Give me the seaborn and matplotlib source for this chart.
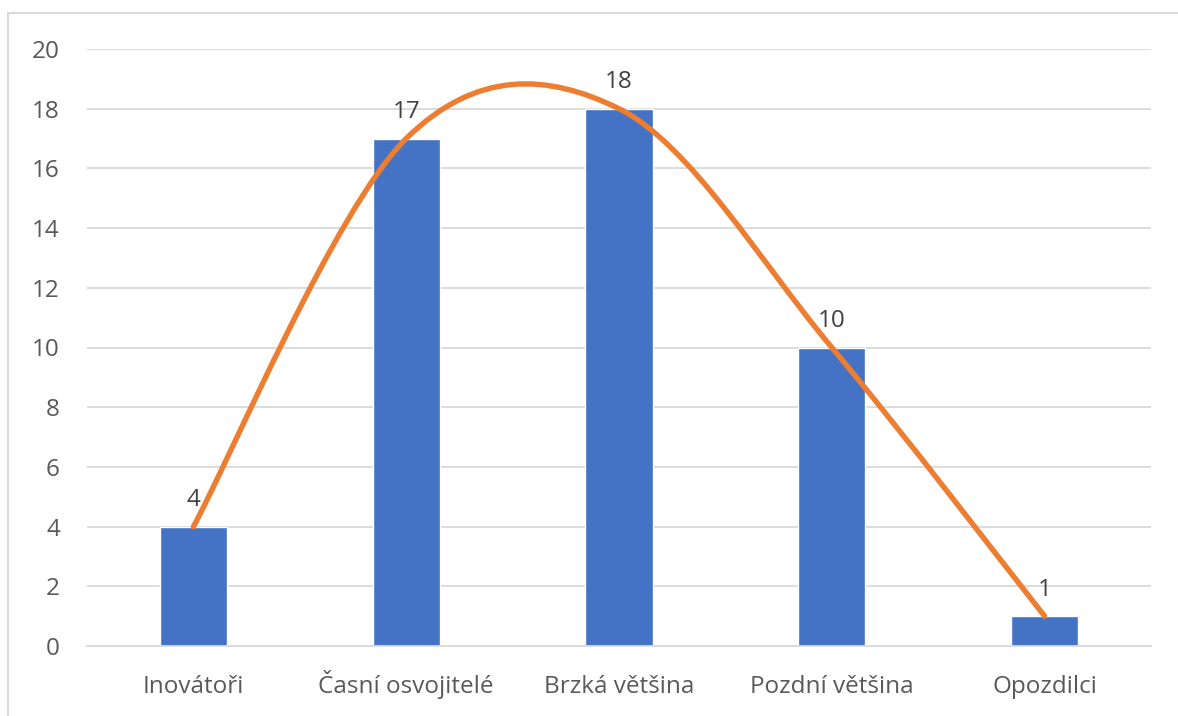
import matplotlib
matplotlib.use("Agg")
import matplotlib.pyplot as plt
from matplotlib.path import Path
from matplotlib.patches import PathPatch, Rectangle
import seaborn as sns
import pandas as pd

categories = ["Inovátoři", "Časní osvojitelé", "Brzká většina", "Pozdní většina", "Opozdilci"]
counts = [4, 17, 18, 10, 1]
y_ticks = [0, 2, 4, 6, 8, 10, 12, 14, 16, 18, 20]

sns.set_theme(style="white")
plt.rcParams["font.family"] = ["Open Sans", "DejaVu Sans"]

df = pd.DataFrame({"kategorie": categories, "pocet": counts})

fig = plt.figure(figsize=(11.78, 7.16), dpi=100)
ax = fig.add_axes([87 / 1178, 1 - 646 / 716, (1151 - 87) / 1178, (646 - 49) / 716])

sns.barplot(data=df, x="kategorie", y="pocet", color="#4472C4", width=0.315,
            saturation=1, ax=ax, zorder=2)

# smoothed line through the bar tops (cubic Bezier, Catmull-Rom style tangents)
xs = list(range(len(counts)))
pts = list(zip(xs, counts))
verts = [pts[0]]
codes = [Path.MOVETO]
for i in range(len(pts) - 1):
    p0 = pts[i - 1] if i > 0 else pts[i]
    p1 = pts[i]
    p2 = pts[i + 1]
    p3 = pts[i + 2] if i + 2 < len(pts) else pts[i + 1]
    c1 = (p1[0] + (p2[0] - p0[0]) / 6, p1[1] + (p2[1] - p0[1]) / 6)
    c2 = (p2[0] - (p3[0] - p1[0]) / 6, p2[1] - (p3[1] - p1[1]) / 6)
    verts += [c1, c2, p2]
    codes += [Path.CURVE4] * 3
ax.add_patch(PathPatch(Path(verts, codes), facecolor="none", edgecolor="#ED7D31",
                       lw=3.9, capstyle="round", joinstyle="round", zorder=4))

for x, v in zip(xs, counts):
    ax.annotate(str(v), (x, v), xytext=(0, 10.5), textcoords="offset points",
                ha="center", va="bottom", fontsize=17.5, color="#404040", zorder=5)

ax.set_ylim(0, 20)
ax.set_xlim(-0.5, len(categories) - 0.5)
ax.set_yticks(y_ticks)
ax.yaxis.grid(True, color="#D9D9D9", lw=1.3, zorder=0)
ax.set_axisbelow(True)
for s in ["top", "right", "left"]:
    ax.spines[s].set_visible(False)
ax.spines["bottom"].set_color("#D9D9D9")
ax.spines["bottom"].set_linewidth(1.3)
ax.set_xlabel("")
ax.set_ylabel("")
ax.tick_params(axis="both", length=0, labelsize=17.5, labelcolor="#595959")
ax.tick_params(axis="y", pad=19.5)
ax.tick_params(axis="x", pad=33.5)
for lbl in ax.get_xticklabels():
    lbl.set_verticalalignment("baseline")

# chart frame
fig.patches.append(Rectangle((8 / 1178, -0.01), 1.02, 1 - 13 / 716 + 0.01,
                             transform=fig.transFigure, fill=False,
                             edgecolor="#D9D9D9", lw=1.5))

fig.savefig("out.png", dpi=100)
